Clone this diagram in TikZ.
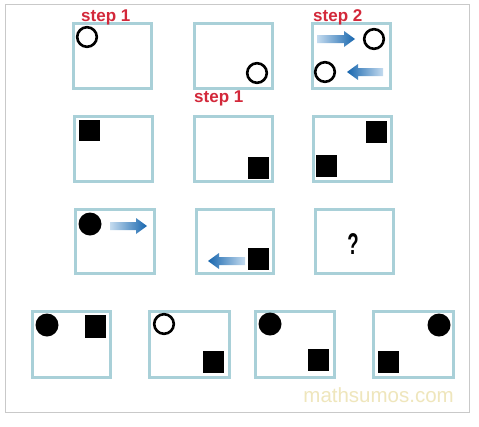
\documentclass[tikz,border=0pt]{standalone}
\usepackage{fontspec}
\setmainfont{Liberation Sans}
\begin{document}
\begin{tikzpicture}[x=1pt,y=-1pt,
  panel/.style={draw=boxblue,line width=3pt},
  ocirc/.style={draw=black,line width=2.6pt,fill=white},
  fcirc/.style={fill=black},
  sq/.style={fill=black},
  steplabel/.style={text=stepred,font=\fontsize{17}{17}\selectfont\bfseries,inner sep=0pt,anchor=base west},
  rarr/.style={left color=arrlight,right color=arrdark,draw=none},
  larr/.style={left color=arrdark,right color=arrlight,draw=none}]
\definecolor{boxblue}{HTML}{A9D0D8}
\definecolor{stepred}{HTML}{D3283A}
\definecolor{arrdark}{HTML}{1766AE}
\definecolor{arrlight}{HTML}{C4DBEF}
\definecolor{frame}{HTML}{C9C9C9}
\definecolor{wm}{HTML}{EFE6BC}
\useasboundingbox (0,0) rectangle (479,426);
\fill[white] (0,0) rectangle (479,426);
\draw[frame,line width=1pt] (5,4) rectangle (469,412);
% row 1
\draw[panel] (73,23) rectangle (151,88);
\draw[panel] (194,23) rectangle (272,88);
\draw[panel] (312,23) rectangle (390,88);
\draw[ocirc] (87,37) circle (9.8);
\draw[ocirc] (257,73) circle (9.8);
\draw[ocirc] (374,39) circle (9.8);
\draw[ocirc] (325,72) circle (9.8);
\path[rarr] (317,35) -- (344,35) -- (344,31) -- (355,39) -- (344,47) -- (344,43) -- (317,43) -- cycle;
\path[larr] (383,68) -- (358,68) -- (358,64) -- (347,72) -- (358,80) -- (358,76) -- (383,76) -- cycle;
\node[steplabel] (s1a) at (81,21) {step 1};
\node[steplabel] (s1b) at (194,102) {step 1};
\node[steplabel] (s2) at (313,21) {step 2};
% row 2
\draw[panel] (74,116) rectangle (152,181);
\draw[panel] (194,116) rectangle (272,181);
\draw[panel] (313,116) rectangle (391,181);
\fill[sq] (79,120) rectangle (100,141);
\fill[sq] (248,157) rectangle (269,179);
\fill[sq] (366,121) rectangle (387,143);
\fill[sq] (316,155) rectangle (337,177);
% row 3
\draw[panel] (75,209) rectangle (154,273);
\draw[panel] (196,209) rectangle (273,273);
\draw[panel] (315,209) rectangle (393,273);
\fill[fcirc] (90,224) circle (11.5);
\path[rarr] (110,222) -- (136,222) -- (136,218) -- (147,226) -- (136,234) -- (136,230) -- (110,230) -- cycle;
\fill[sq] (248,248) rectangle (269,270);
\path[larr] (245,257) -- (219,257) -- (219,253) -- (208,261) -- (219,269) -- (219,265) -- (245,265) -- cycle;
\node[inner sep=0pt] (q) at (353,244) {\scalebox{0.62}[1]{\fontsize{30}{30}\selectfont\bfseries ?}};
% row 4
\draw[panel] (32,311) rectangle (110,377);
\draw[panel] (149,311) rectangle (229,377);
\draw[panel] (255,311) rectangle (334,377);
\draw[panel] (373,311) rectangle (453,377);
\fill[fcirc] (47,325) circle (11.5);
\fill[sq] (85,315) rectangle (106,338);
\draw[ocirc] (164,324) circle (9.8);
\fill[sq] (203,351) rectangle (224,373);
\fill[fcirc] (270,324) circle (11.5);
\fill[sq] (308,349) rectangle (329,371);
\fill[fcirc] (439,325) circle (11.5);
\fill[sq] (378,351) rectangle (399,373);
\node[text=wm,font=\fontsize{20.5}{20.5}\selectfont,inner sep=0pt,anchor=base east] (wmark) at (454,402) {mathsumos.com};
\end{tikzpicture}
\end{document}
